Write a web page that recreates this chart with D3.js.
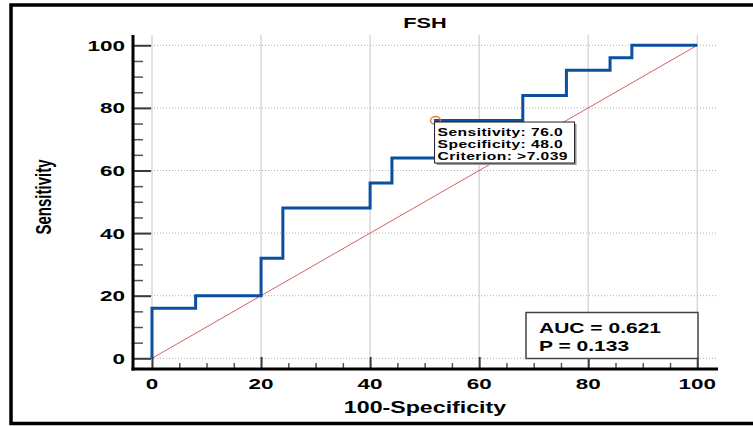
<!DOCTYPE html>
<html>
<head>
<meta charset="utf-8">
<script src="https://cdn.jsdelivr.net/npm/d3@7/dist/d3.min.js"></script>
<style>
  html, body { margin: 0; padding: 0; background: #fff; }
  svg { display: block; }
  text { font-family: "Liberation Sans", Arial, sans-serif; font-weight: bold; fill: #000; }
</style>
</head>
<body>
<svg id="chart" width="753" height="426"></svg>
<script>
// ROC curve for FSH: false-positive rate (100-Specificity) vs Sensitivity
const fpr = [0, 0, 8, 8, 20, 20, 24, 24, 40, 40, 44, 44, 52, 52, 68, 68, 76, 76, 84, 84, 88, 88, 100];
const tpr = [0, 16, 16, 20, 20, 32, 32, 48, 48, 56, 56, 64, 64, 76, 76, 84, 84, 92, 92, 96, 96, 100, 100];

const majorTicks = [0, 20, 40, 60, 80, 100];
const minorTicks = [5, 10, 15, 25, 30, 35, 45, 50, 55, 65, 70, 75, 85, 90, 95];

const title = "FSH";
const xTitle = "100-Specificity";
const yTitle = "Sensitivity";

const cutoff = { spec: 48.0, sens: 76.0, criterion: ">7.039" };
const tipLines = ["Sensitivity: 76.0", "Specificity: 48.0", "Criterion: >7.039"];
const statLines = ["AUC = 0.621", "P = 0.133"];

const svg = d3.select("#chart");
const SX = 1.45; // horizontal text stretch

const x = d3.scaleLinear().domain([0, 100]).range([152, 697.3]);
const y = d3.scaleLinear().domain([0, 100]).range([358.3, 45.3]);

const axL = 133, axB = 369, axTop = 35, axRight = 718;

function stretchedText(g, tx, ty, str, size, anchor) {
  return g.append("text")
    .attr("transform", `translate(${tx},${ty}) scale(${SX},1)`)
    .attr("text-anchor", anchor || "middle")
    .style("font-size", size + "px")
    .text(str);
}

// outer frame
svg.append("path")
  .attr("d", `M760,5 L11,5 L11,423.5 L760,423.5`)
  .attr("fill", "none").attr("stroke", "#000").attr("stroke-width", 3.5);

// gridlines
const grid = svg.append("g");
grid.selectAll("line.v").data(majorTicks).join("line")
  .attr("x1", d => x(d)).attr("x2", d => x(d))
  .attr("y1", axTop).attr("y2", axB)
  .attr("stroke", "#d9d9d9").attr("stroke-width", 1.5);
grid.selectAll("line.h").data(majorTicks).join("line")
  .attr("x1", axL).attr("x2", 716)
  .attr("y1", d => y(d)).attr("y2", d => y(d))
  .attr("stroke", "#b0b0b0").attr("stroke-width", 1)
  .attr("stroke-dasharray", "1,2");

// diagonal reference line
svg.append("line")
  .attr("x1", x(0)).attr("y1", y(0)).attr("x2", x(100)).attr("y2", y(100))
  .attr("stroke", "#d04545").attr("stroke-width", 1).attr("opacity", 0.85);

// ticks through d3 axes (labels drawn separately)
const yMajor = svg.append("g").attr("transform", `translate(${axL},0)`)
  .call(d3.axisLeft(y).tickValues(majorTicks).tickSize(-18).tickFormat(""));
const yMinor = svg.append("g").attr("transform", `translate(${axL},0)`)
  .call(d3.axisLeft(y).tickValues(minorTicks).tickSize(-10).tickFormat(""));
const xMajor = svg.append("g").attr("transform", `translate(0,${axB})`)
  .call(d3.axisBottom(x).tickValues(majorTicks).tickSize(-12).tickFormat(""));
const xMinor = svg.append("g").attr("transform", `translate(0,${axB})`)
  .call(d3.axisBottom(x).tickValues(minorTicks).tickSize(-6).tickFormat(""));
[yMajor, yMinor, xMajor, xMinor].forEach(g => g.select(".domain").remove());
[yMajor, xMajor].forEach(g => g.selectAll(".tick line").attr("stroke", "#3a3a3a").attr("stroke-width", 2));
[yMinor, xMinor].forEach(g => g.selectAll(".tick line").attr("stroke", "#555").attr("stroke-width", 1.5));

// axis lines
svg.append("line").attr("x1", axL).attr("x2", axL).attr("y1", axTop).attr("y2", axB + 1.5)
  .attr("stroke", "#000").attr("stroke-width", 3);
svg.append("line").attr("x1", axL - 1.5).attr("x2", axRight).attr("y1", axB).attr("y2", axB)
  .attr("stroke", "#000").attr("stroke-width", 3);

// tick labels
majorTicks.forEach(v => {
  stretchedText(svg, 125, y(v) + 5.5, String(v), 15.5, "end");
  stretchedText(svg, x(v), 389, String(v), 15.5, "middle");
});

// ROC curve
const pts = fpr.map((f, i) => [f, tpr[i]]);
svg.append("path")
  .datum(pts)
  .attr("d", d3.line().x(d => x(d[0])).y(d => y(d[1])))
  .attr("fill", "none").attr("stroke", "#0b4f9e").attr("stroke-width", 3)
  .attr("stroke-linejoin", "miter");

// optimal cut-off marker
svg.append("ellipse")
  .attr("cx", x(100 - cutoff.spec)).attr("cy", y(cutoff.sens))
  .attr("rx", 5).attr("ry", 3.8)
  .attr("fill", "none").attr("stroke", "#f07a1a").attr("stroke-width", 1.5);

// cut-off info box, hanging just below the curve at the cut-off point
const tx = x(100 - cutoff.spec) - 1, ty = y(cutoff.sens) + 1.6;
svg.append("rect").attr("x", tx + 2).attr("y", ty + 2).attr("width", 140).attr("height", 41)
  .attr("fill", "#9a9a9a");
svg.append("rect").attr("x", tx).attr("y", ty).attr("width", 140).attr("height", 41)
  .attr("fill", "#fff").attr("stroke", "#222").attr("stroke-width", 1);
tipLines.forEach((s, i) => {
  stretchedText(svg, tx + 3, ty + 13.5 + i * 12, s, 10.8, "start").style("letter-spacing", "0.3px");
});

// AUC box
svg.append("rect").attr("x", 526).attr("y", 312.5).attr("width", 172).attr("height", 46)
  .attr("fill", "#fff").attr("stroke", "#444").attr("stroke-width", 1.5);
statLines.forEach((s, i) => {
  stretchedText(svg, 539, 332.5 + i * 18, s, 14.5, "start");
});

// titles
stretchedText(svg, 425, 28, title, 15, "middle");
stretchedText(svg, 425, 413, xTitle, 16, "middle");
svg.append("text")
  .attr("transform", `translate(51,197) scale(${SX},1) rotate(-90)`)
  .attr("text-anchor", "middle")
  .style("font-size", "15px")
  .text(yTitle);
</script>
</body>
</html>
